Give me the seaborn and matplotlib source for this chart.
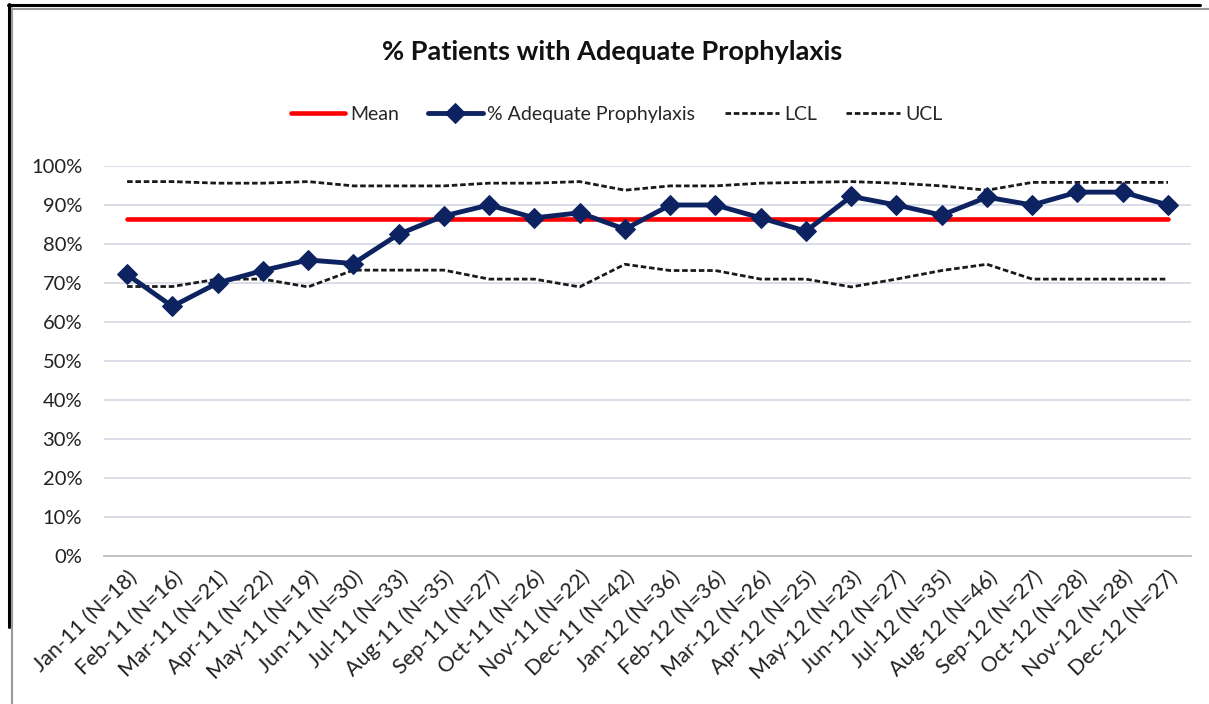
import numpy as np
import pandas as pd
import matplotlib
matplotlib.use('Agg')
import matplotlib.pyplot as plt
from matplotlib.lines import Line2D
from matplotlib.ticker import FuncFormatter
import seaborn as sns

months = ['Jan-11', 'Feb-11', 'Mar-11', 'Apr-11', 'May-11', 'Jun-11', 'Jul-11', 'Aug-11',
          'Sep-11', 'Oct-11', 'Nov-11', 'Dec-11', 'Jan-12', 'Feb-12', 'Mar-12', 'Apr-12',
          'May-12', 'Jun-12', 'Jul-12', 'Aug-12', 'Sep-12', 'Oct-12', 'Nov-12', 'Dec-12']
n_patients = [18, 16, 21, 22, 19, 30, 33, 35, 27, 26, 22, 42,
              36, 36, 26, 25, 23, 27, 35, 46, 27, 28, 28, 27]
adequate = [72.2, 64.0, 70.0, 73.2, 75.9, 75.0, 82.5, 87.2, 90.0, 86.7, 88.0, 83.8,
            90.0, 90.0, 86.7, 83.3, 92.2, 90.0, 87.4, 92.0, 90.0, 93.3, 93.3, 90.0]
ucl = [96.0, 96.0, 95.6, 95.6, 96.0, 94.9, 94.9, 94.9, 95.6, 95.6, 96.0, 93.8,
       94.9, 94.9, 95.6, 95.8, 96.0, 95.6, 94.9, 93.8, 95.8, 95.8, 95.8, 95.8]
lcl = [69.1, 69.1, 71.0, 71.0, 69.0, 73.3, 73.3, 73.3, 71.0, 71.0, 69.0, 74.8,
       73.2, 73.2, 71.0, 71.0, 69.0, 71.0, 73.2, 74.8, 71.0, 71.0, 71.0, 71.0]
mean_value = 86.4

labels = [f'{m} (N={n})' for m, n in zip(months, n_patients)]
df = pd.DataFrame({'idx': np.arange(len(months)), 'pct': adequate,
                   'ucl': ucl, 'lcl': lcl, 'mean': [mean_value] * len(months)})

sns.set_theme(style='white')
plt.rcParams['font.family'] = ['Lato', 'DejaVu Sans']

fig = plt.figure(figsize=(12.09, 7.04), dpi=100)
ax = fig.add_axes([0.0864, 0.2102, 0.8984, 0.554])

navy = '#0d2260'
sns.lineplot(data=df, x='idx', y='mean', ax=ax, color='#ff0000', linewidth=3.3,
             label='Mean', zorder=3)
sns.lineplot(data=df, x='idx', y='pct', ax=ax, color=navy, linewidth=3.5,
             marker='D', markersize=10.5, markeredgecolor=navy, label='% Adequate Prophylaxis', zorder=4)
sns.lineplot(data=df, x='idx', y='lcl', ax=ax, color='#1a1a1a', linewidth=2.0,
             label='LCL', zorder=2)
sns.lineplot(data=df, x='idx', y='ucl', ax=ax, color='#1a1a1a', linewidth=2.0,
             label='UCL', zorder=2)
for line in ax.lines[2:]:
    line.set_dashes((2.0, 1.0))

ax.set_xlim(-0.5, len(months) - 0.5)
ax.set_ylim(0, 100)
ax.set_yticks(np.arange(0, 101, 10))
ax.yaxis.set_major_formatter(FuncFormatter(lambda v, p: f'{v:.0f}%'))
ax.set_xticks(df['idx'])
ax.set_xticklabels(labels, rotation=44, ha='right', rotation_mode='anchor')
ax.tick_params(axis='both', length=0, colors='#222222')
ax.tick_params(axis='y', pad=16, labelsize=14.5)
ax.tick_params(axis='x', pad=8, labelsize=15.5)
ax.set_xlabel('')
ax.set_ylabel('')

ax.grid(axis='y', color='#d8dbe6', linewidth=1.3)
ax.grid(axis='x', visible=False)
for s in ['top', 'right', 'left']:
    ax.spines[s].set_visible(False)
ax.spines['bottom'].set_color('#bfbfbf')
ax.spines['bottom'].set_linewidth(1.3)

handles, lbls = ax.get_legend_handles_labels()
ax.get_legend().remove()
fig.legend(handles, lbls, loc='center', bbox_to_anchor=(0.51, 0.838), ncol=4,
           frameon=False, fontsize=14, handlelength=2.8, handletextpad=0.25,
           columnspacing=1.5)

fig.text(0.506, 0.926, '% Patients with Adequate Prophylaxis', ha='center', va='center',
         fontsize=19.5, fontweight='bold', color='#111111')

# screenshot frame edges
W, H = 1209, 704
fig.add_artist(Line2D([8 / W, 1200 / W], [1 - 5 / H, 1 - 5 / H], color='black', linewidth=2.2))
fig.add_artist(Line2D([10 / W, 1.0], [1 - 8.5 / H, 1 - 8.5 / H], color='#999999', linewidth=1.5))
fig.add_artist(Line2D([9 / W, 9 / W], [1 - 4 / H, 1 - 627 / H], color='black', linewidth=2.2))
fig.add_artist(Line2D([12 / W, 12 / W], [1 - 8 / H, 0], color='#999999', linewidth=1.5))

fig.savefig('out.png', dpi=100)
